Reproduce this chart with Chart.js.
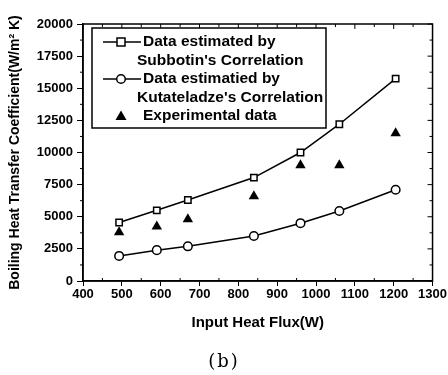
<!DOCTYPE html>
<html>
<head>
<meta charset="utf-8">
<script src="https://cdn.jsdelivr.net/npm/chart.js@4/dist/chart.umd.min.js"></script>
<style>
  body { margin: 0; background: #fff; }
  #wrap { position: relative; width: 448px; height: 375px; }
  #caption {
    position: absolute; left: 0; width: 448px; top: 350px; text-align: center;
    font-family: "DejaVu Serif", "Liberation Serif", serif; font-size: 18px; letter-spacing: 2px; color: #000;
  }
</style>
</head>
<body>
<div id="wrap">
  <canvas id="chart" width="448" height="375"></canvas>
  <div id="caption">(b)</div>
</div>
<script>
const heatFlux = [493, 590, 670, 840, 960, 1060, 1205]
const subbotin = [4550, 5500, 6300, 8050, 10000, 12200, 15750]
const kutateladze = [1950, 2400, 2700, 3500, 4500, 5450, 7100]
const experimental = [3800, 4250, 4800, 6600, 9000, 9000, 11500]

const legendItems = [
  { marker: "rect", lines: ["Data estimated by", "Subbotin's Correlation"] },
  { marker: "circle", lines: ["Data estimatied by", "Kutateladze's Correlation"] },
  { marker: "triangle", lines: ["Experimental data"] }
]

const toPoints = ys => heatFlux.map((x, i) => ({ x: x, y: ys[i] }))
const FONT = "'Liberation Sans', Arial, sans-serif"

function drawMarker(ctx, type, x, y) {
  ctx.save()
  ctx.lineWidth = 1.5
  ctx.strokeStyle = "#000"
  ctx.fillStyle = "#fff"
  ctx.beginPath()
  if (type == "rect") {
    ctx.rect(x - 4, y - 4, 8, 8)
    ctx.fill(); ctx.stroke()
  } else if (type == "circle") {
    ctx.arc(x, y, 4.3, 0, Math.PI * 2)
    ctx.fill(); ctx.stroke()
  } else {
    ctx.fillStyle = "#000"
    ctx.moveTo(x, y - 5.5)
    ctx.lineTo(x + 5.5, y + 4)
    ctx.lineTo(x - 5.5, y + 4)
    ctx.closePath()
    ctx.fill()
  }
  ctx.restore()
}

// frame, mirrored ticks, minor ticks and the boxed legend
const extras = {
  id: "extras",
  afterDraw(chart) {
    const ctx = chart.ctx
    const a = chart.chartArea
    const xs = chart.scales.x, ys = chart.scales.y
    ctx.save()
    ctx.strokeStyle = "#000"
    ctx.lineWidth = 1.5
    ctx.strokeRect(a.left, a.top, a.right - a.left, a.bottom - a.top)

    ctx.lineWidth = 1
    ctx.beginPath()
    for (let v = 0; v <= 20000; v += 1250) {
      const py = ys.getPixelForValue(v)
      const major = v % 2500 == 0
      if (!major) { ctx.moveTo(a.left - 3, py); ctx.lineTo(a.left, py) }
      ctx.moveTo(a.right, py); ctx.lineTo(a.right - (major ? 5 : 3), py)
    }
    for (let v = 400; v <= 1300; v += 50) {
      const px = xs.getPixelForValue(v)
      const major = v % 100 == 0
      if (!major) { ctx.moveTo(px, a.bottom); ctx.lineTo(px, a.bottom - 3) }
      ctx.moveTo(px, a.top); ctx.lineTo(px, a.top + (major ? 5 : 3))
    }
    ctx.stroke()

    // legend
    const L = { left: 92, top: 28, right: 326, bottom: 128 }
    ctx.fillStyle = "#fff"
    ctx.fillRect(L.left, L.top, L.right - L.left, L.bottom - L.top)
    ctx.lineWidth = 1.5
    ctx.strokeRect(L.left, L.top, L.right - L.left, L.bottom - L.top)
    ctx.font = "bold 15.5px " + FONT
    ctx.fillStyle = "#000"
    ctx.textBaseline = "middle"
    let y = 42
    legendItems.forEach(item => {
      if (item.marker != "triangle") {
        ctx.beginPath()
        ctx.moveTo(103, y); ctx.lineTo(141, y)
        ctx.stroke()
      }
      drawMarker(ctx, item.marker, 121, y)
      item.lines.forEach((t, j) => {
        ctx.fillText(t, j == 0 ? 143 : 137, y)
        y += 18.5
      })
    })
    ctx.restore()
  }
}

const axisFont = { family: FONT, size: 13, weight: "bold" }

const config = {
  type: "line",
  data: {
    datasets: [
      {
        label: "Subbotin",
        data: toPoints(subbotin),
        borderColor: "#000",
        borderWidth: 1.5,
        pointStyle: "rect",
        pointRadius: 4.5,
        pointBackgroundColor: "#fff",
        pointBorderColor: "#000",
        pointBorderWidth: 1.5
      },
      {
        label: "Kutateladze",
        data: toPoints(kutateladze),
        borderColor: "#000",
        borderWidth: 1.5,
        pointStyle: "circle",
        pointRadius: 4.3,
        pointBackgroundColor: "#fff",
        pointBorderColor: "#000",
        pointBorderWidth: 1.5
      },
      {
        label: "Experimental",
        data: toPoints(experimental),
        showLine: false,
        pointStyle: "triangle",
        pointRadius: 6,
        pointBackgroundColor: "#000",
        pointBorderColor: "#000",
        pointBorderWidth: 0
      }
    ]
  },
  options: {
    responsive: false,
    animation: false,
    layout: { padding: { top: 24, right: 13, left: 0, bottom: 0 } },
    scales: {
      x: {
        type: "linear",
        min: 400,
        max: 1300,
        afterFit: s => { s.height = 94 },
        ticks: { stepSize: 100, color: "#000", font: axisFont, padding: 1, maxRotation: 0, callback: v => String(v) },
        grid: { display: true, drawOnChartArea: false, color: "#000", tickLength: 5 },
        border: { display: true, color: "#000", width: 1.5 },
        title: { display: true, text: "Input Heat Flux(W)", color: "#000", font: { family: FONT, size: 15, weight: "bold" }, padding: { bottom: 43 } }
      },
      y: {
        min: 0,
        max: 20000,
        afterFit: s => { s.width = 83 },
        ticks: { stepSize: 2500, color: "#000", font: axisFont, padding: 4, callback: v => String(v) },
        grid: { display: true, drawOnChartArea: false, color: "#000", tickLength: 6 },
        border: { display: true, color: "#000", width: 1.5 },
        title: { display: true, text: "Boiling Heat Transfer Coefficient(W/m\u00B2 K)", color: "#000", font: { family: FONT, size: 14, weight: "bold" }, padding: { top: 7 } }
      }
    },
    plugins: {
      legend: { display: false },
      tooltip: { enabled: false }
    }
  },
  plugins: [extras]
}

new Chart(document.getElementById("chart"), config)
</script>
</body>
</html>
